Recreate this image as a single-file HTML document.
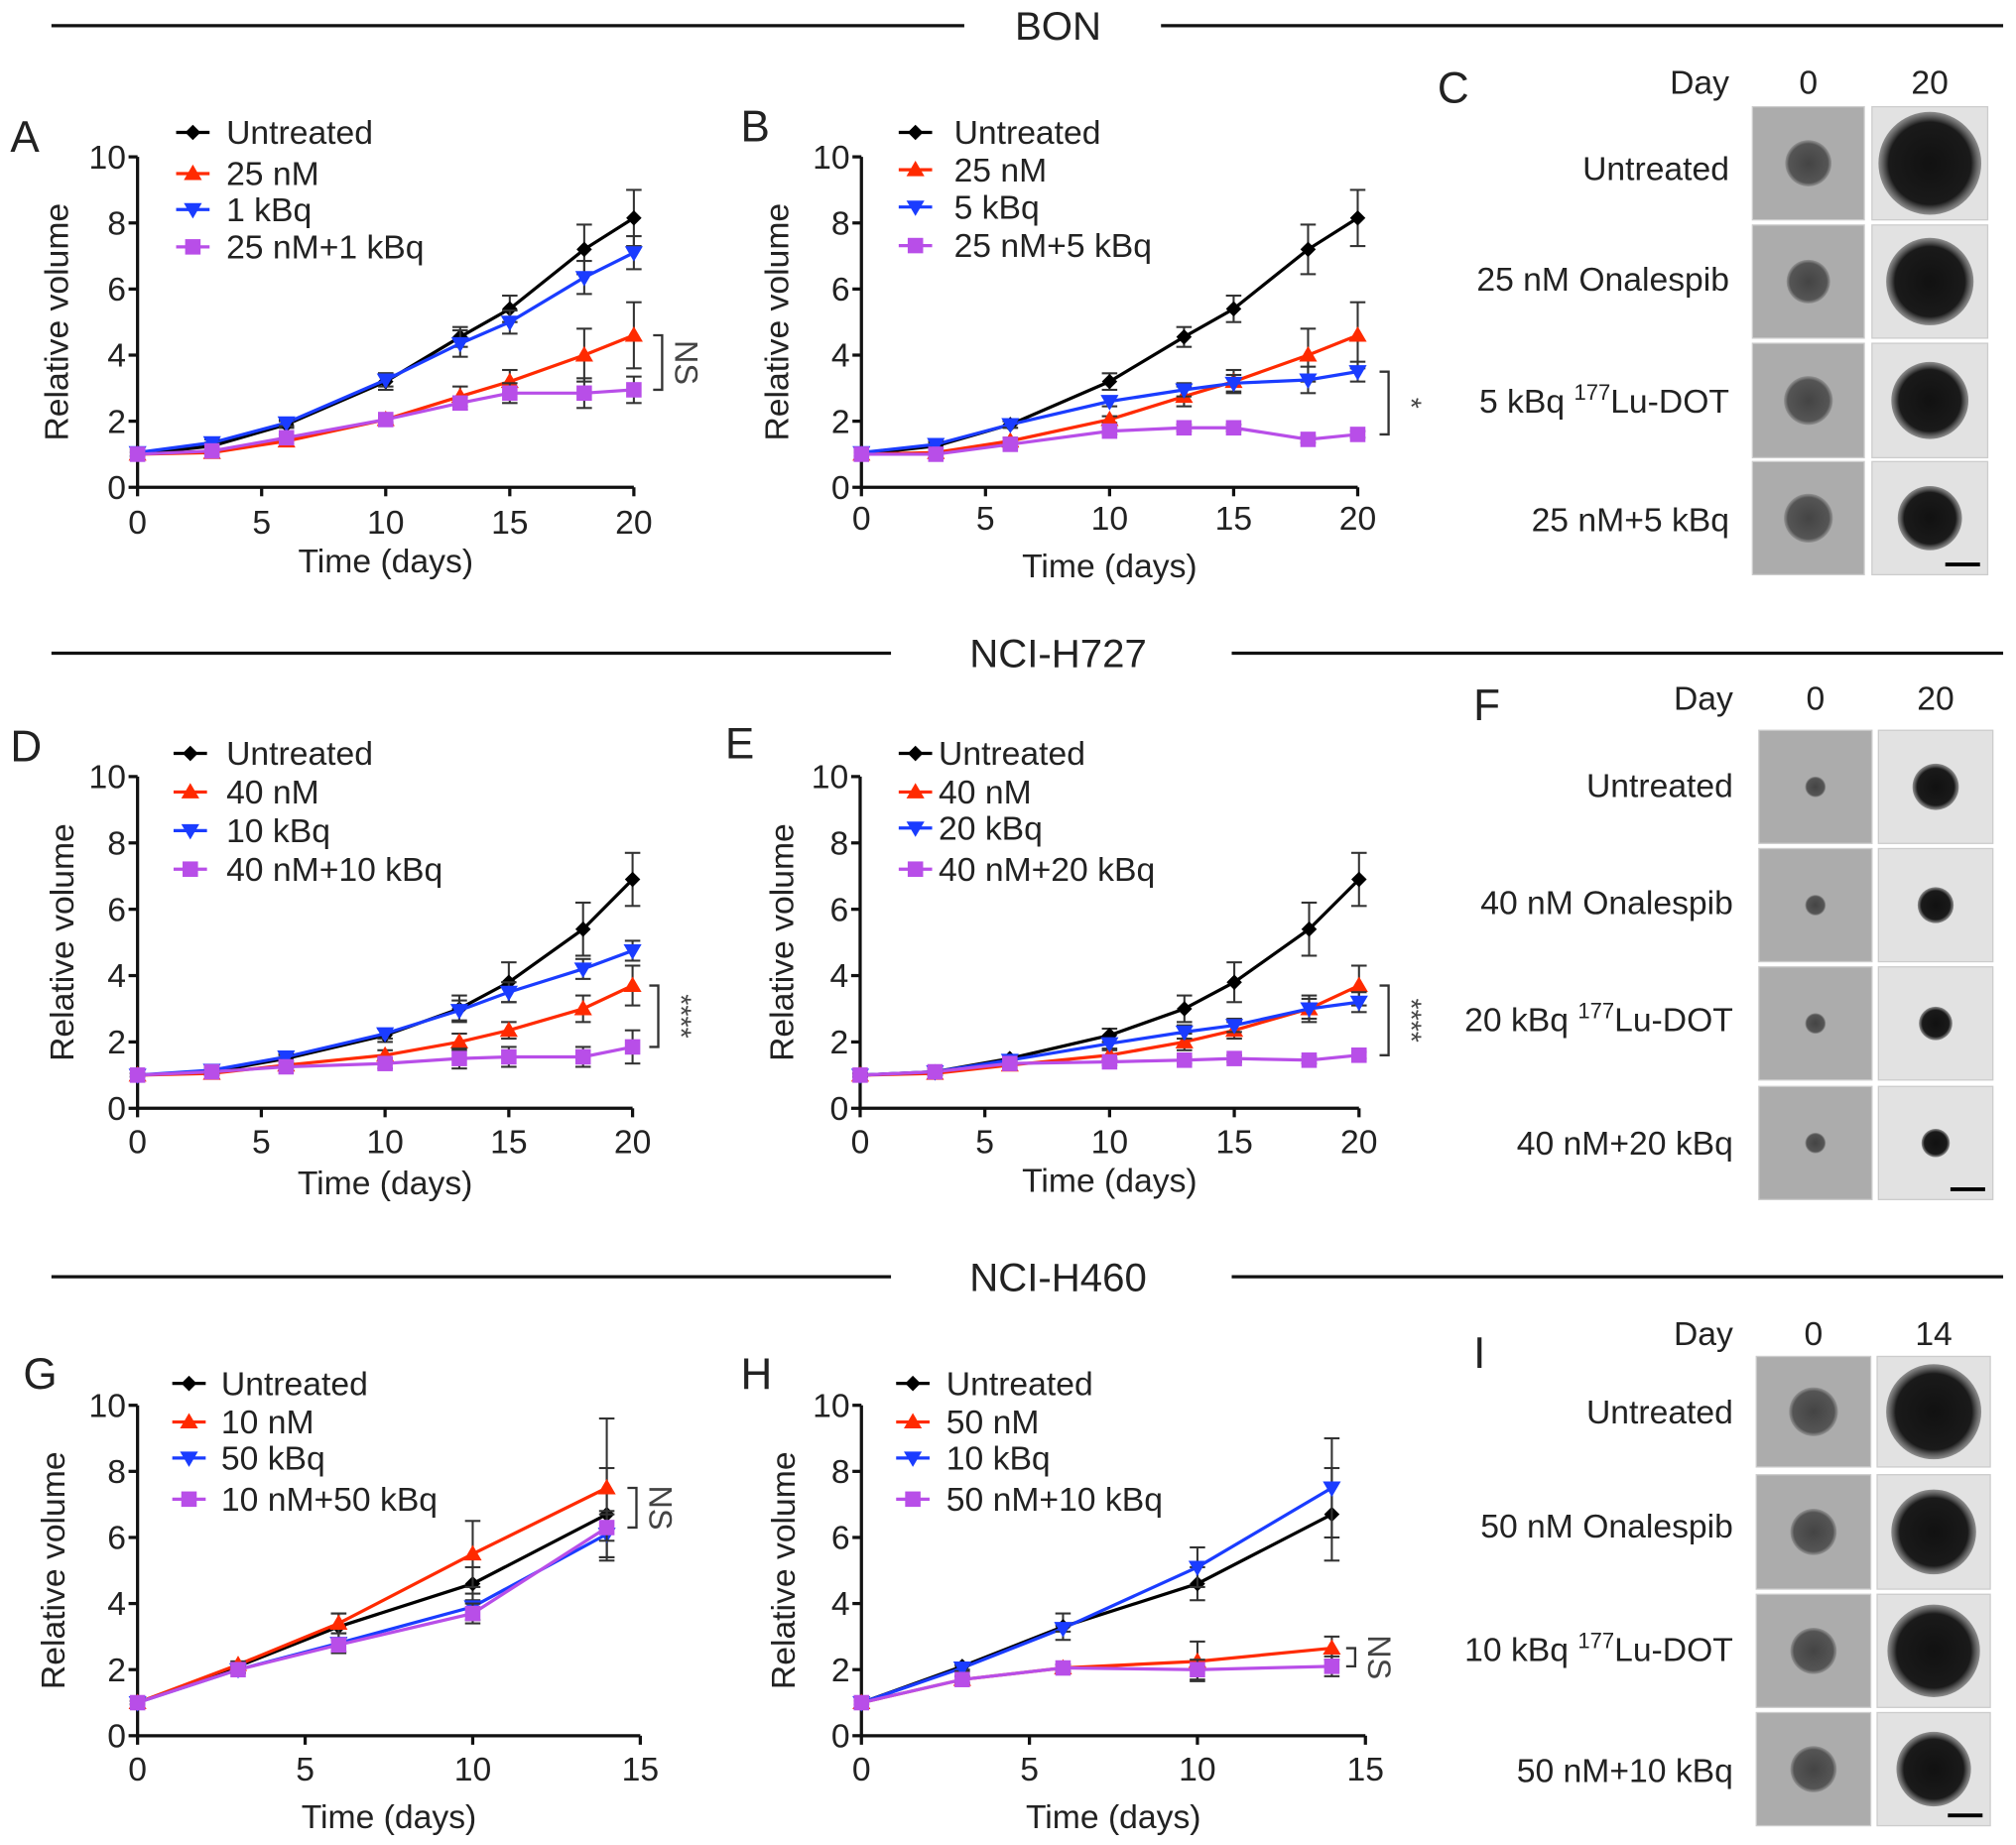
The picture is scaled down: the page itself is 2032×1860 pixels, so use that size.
<!DOCTYPE html>
<html><head><meta charset="utf-8">
<style>
html,body{margin:0;padding:0;background:#fff;}
svg{display:block;font-family:"Liberation Sans",Arial,sans-serif;}
</style></head>
<body>
<svg id="fig" width="2032" height="1860" viewBox="0 0 1568 1435" preserveAspectRatio="none" xmlns="http://www.w3.org/2000/svg">
<defs>
<radialGradient id="blobDark"><stop offset="0" stop-color="#111"/><stop offset="0.8" stop-color="#1a1a1a"/><stop offset="1" stop-color="#555" stop-opacity="0.6"/></radialGradient>
<radialGradient id="blobMid"><stop offset="0" stop-color="#444"/><stop offset="0.85" stop-color="#555"/><stop offset="1" stop-color="#777" stop-opacity="0.5"/></radialGradient>
</defs>
</svg>
<script>
const NS="http://www.w3.org/2000/svg";
const svg=document.getElementById('fig');
function mk(tag,attrs,parent){const e=document.createElementNS(NS,tag);for(const k in attrs)e.setAttribute(k,attrs[k]);(parent||svg).appendChild(e);return e;}
function txt(x,y,s,size,anchor,parent){const t=mk('text',{x:x,y:y,'font-size':size,'text-anchor':anchor||'start',fill:'#222'},parent);t.textContent=s;return t;}
const FS=26;

// ---- data ----
const daysLong=[0,3,6,10,13,15,18,20];
const daysShort=[0,3,6,10,14];
const xTicks20=[0,5,10,15,20];
const xTicks15=[0,5,10,15];
const yTicks=[0,2,4,6,8,10];

const aNames=["Untreated","25 nM","1 kBq","25 nM+1 kBq"];
const aUnt=[1,1.25,1.9,3.2,4.55,5.4,7.2,8.15];
const aUntErr=[0.1,0.1,0.1,0.25,0.3,0.4,0.75,0.85];
const a25=[1,1.05,1.4,2.05,2.75,3.2,4.0,4.6];
const a25Err=[0.05,0.05,0.1,0.1,0.3,0.35,0.8,1.0];
const a1k=[1.05,1.35,1.95,3.25,4.35,5.0,6.35,7.1];
const a1kErr=[0.1,0.1,0.1,0.2,0.4,0.35,0.5,0.5];
const aCombo=[1,1.1,1.5,2.05,2.55,2.85,2.85,2.95];
const aComboErr=[0.05,0.1,0.1,0.1,0.2,0.3,0.45,0.4];

const bNames=["Untreated","25 nM","5 kBq","25 nM+5 kBq"];
const b5k=[1.05,1.3,1.9,2.6,2.95,3.15,3.25,3.5];
const b5kErr=[0.1,0.1,0.1,0.15,0.2,0.25,0.4,0.3];
const bCombo=[1,1.0,1.3,1.7,1.8,1.8,1.45,1.6];
const bComboErr=[0.05,0.05,0.1,0.1,0.1,0.1,0.1,0.1];

const dNames=["Untreated","40 nM","10 kBq","40 nM+10 kBq"];
const dUnt=[1,1.1,1.5,2.2,3.0,3.8,5.4,6.9];
const dUntErr=[0.05,0.1,0.1,0.2,0.4,0.6,0.8,0.8];
const d40=[1,1.05,1.3,1.6,2.0,2.35,3.0,3.7];
const d40Err=[0.05,0.05,0.1,0.15,0.25,0.25,0.4,0.6];
const d10k=[1,1.15,1.55,2.25,2.95,3.5,4.2,4.75];
const d10kErr=[0.05,0.1,0.1,0.15,0.3,0.3,0.3,0.3];
const dCombo=[1,1.1,1.25,1.35,1.5,1.55,1.55,1.85];
const dComboErr=[0.05,0.05,0.1,0.15,0.3,0.3,0.3,0.5];

const eNames=["Untreated","40 nM","20 kBq","40 nM+20 kBq"];
const e20k=[1,1.1,1.45,1.95,2.3,2.5,3.0,3.2];
const e20kErr=[0.05,0.1,0.1,0.15,0.2,0.2,0.3,0.3];
const eCombo=[1,1.1,1.35,1.4,1.45,1.5,1.45,1.6];
const eComboErr=[0.05,0.05,0.1,0.1,0.1,0.1,0.1,0.1];

const gNames=["Untreated","10 nM","50 kBq","10 nM+50 kBq"];
const gUnt=[1,2.1,3.3,4.6,6.7];
const gUntErr=[0.05,0.1,0.4,0.5,1.4];
const g10n=[1,2.15,3.4,5.5,7.5];
const g10nErr=[0.05,0.1,0.3,1.0,2.1];
const g50k=[1,2.0,2.8,3.9,6.1];
const g50kErr=[0.05,0.1,0.3,0.4,0.7];
const gCombo=[1,2.0,2.75,3.7,6.3];
const gComboErr=[0.05,0.1,0.2,0.3,0.4];

const hNames=["Untreated","50 nM","10 kBq","50 nM+10 kBq"];
const h50n=[1,1.7,2.05,2.25,2.65];
const h50nErr=[0.05,0.1,0.1,0.6,0.35];
const h10k=[1,2.05,3.25,5.1,7.5];
const h10kErr=[0.05,0.1,0.1,0.6,1.5];
const hCombo=[1,1.7,2.05,2.0,2.1];
const hComboErr=[0.05,0.1,0.1,0.3,0.3];

const COLORS=["#000000","#ff2a00","#1a3cff","#b84ee8"];
const MARKERS=["diamond","up","down","square"];

function marker(type,x,y,color,g){
  let e;
  if(type==="diamond") e=mk('polygon',{points:`${x},${y-6} ${x+6},${y} ${x},${y+6} ${x-6},${y}`,fill:color},g);
  else if(type==="up") e=mk('polygon',{points:`${x},${y-7} ${x+7},${y+5} ${x-7},${y+5}`,fill:color},g);
  else if(type==="down") e=mk('polygon',{points:`${x},${y+7} ${x+7},${y-5} ${x-7},${y-5}`,fill:color},g);
  else e=mk('rect',{x:x-6,y:y-6,width:12,height:12,fill:color},g);
  return e;
}

function chart(cfg){
  const g=mk('g',{});
  
  
  const xmax=cfg.xmax;
  const sx=v=>cfg.x0+(cfg.x1-cfg.x0)*v/xmax;
  const sy=v=>cfg.y0-(cfg.y0-cfg.y1)*v/10;
  const L=txt(cfg.lx,cfg.ly,cfg.letter,34,'start',g);
  
  
  const ax=mk('g',{stroke:'#111','stroke-width':2.5,fill:'none'},g);
  
  
  mk('line',{x1:cfg.x0,y1:sy(0),x2:cfg.x0,y2:sy(10)},ax);
  mk('line',{x1:cfg.x0,y1:sy(0),x2:sx(xmax),y2:sy(0)},ax);
  cfg.yt.forEach(v=>{mk('line',{x1:cfg.x0-7,y1:sy(v),x2:cfg.x0,y2:sy(v)},ax);
    const t=txt(cfg.x0-9,sy(v)+9,String(v),FS,'end',g);
    
    });
  cfg.xt.forEach(v=>{mk('line',{x1:sx(v),y1:sy(0),x2:sx(v),y2:sy(0)+7},ax);
    const t=txt(sx(v),cfg.tickY+2,String(v),FS,'middle',g);
    
    });
  const xt=txt((cfg.x0+cfg.x1)/2,cfg.titleY+2,'Time (days)',FS,'middle',g);
  
  
  const yl=txt(0,0,'Relative volume',FS,'middle',g);
  yl.setAttribute('transform',`translate(${cfg.ylx},${(sy(0)+sy(10))/2}) rotate(-90)`);
  
  
  cfg.series.forEach((s,i)=>{
    const sg=mk('g',{},g);
    
    
    const pts=s.v.map((v,j)=>sx(cfg.days[j])+','+sy(v)).join(' ');
    const pl=mk('polyline',{points:pts,fill:'none',stroke:COLORS[i],'stroke-width':2.5},sg);
    
    
    s.v.forEach((v,j)=>{
      const x=sx(cfg.days[j]);
      const eg=mk('g',{stroke:'#333','stroke-width':1.6},sg);
      
      
      mk('line',{x1:x,y1:sy(v+s.e[j]),x2:x,y2:sy(v-s.e[j])},eg);
      mk('line',{x1:x-6,y1:sy(v+s.e[j]),x2:x+6,y2:sy(v+s.e[j])},eg);
      mk('line',{x1:x-6,y1:sy(v-s.e[j]),x2:x+6,y2:sy(v-s.e[j])},eg);
      const m=marker(MARKERS[i],x,sy(v),COLORS[i],sg);
      
      
    });
  });
  const lg=mk('g',{},g);
  
  
  cfg.names.forEach((n,i)=>{
    const ly=cfg.legY[i];
    const le=mk('g',{},lg);
    
    
    mk('line',{x1:cfg.legMX-13,y1:ly,x2:cfg.legMX+13,y2:ly,stroke:COLORS[i],'stroke-width':2.5},le);
    marker(MARKERS[i],cfg.legMX,ly,COLORS[i],le);
    txt(cfg.legTX,ly+9,n,FS,'start',le);
  });
  const bg=mk('g',{},g);
  
  
  const ya=sy(cfg.sig[0]),yb=sy(cfg.sig[1]),bx=cfg.sigX;
  mk('polyline',{points:`${bx-7},${ya} ${bx},${ya} ${bx},${yb} ${bx-7},${yb}`,fill:'none',stroke:'#333','stroke-width':1.8},bg);
  const st=txt(0,0,cfg.sigText,cfg.sigText==='NS'?25:22,'middle',bg);
  st.setAttribute('transform',`translate(${bx+10},${(ya+yb)/2}) rotate(90)`);
  st.setAttribute('fill','#444');
}

chart({name:'chart-a',letter:'A',lx:8,ly:118,x0:107,x1:493,y0:379,y1:122,xmax:20,days:daysLong,xt:xTicks20,yt:yTicks,tickY:413,titleY:443,ylx:53,
  names:aNames,legMX:150,legTX:176,legY:[103,135,163,192],
  series:[{v:aUnt,e:aUntErr},{v:a25,e:a25Err},{v:a1k,e:a1kErr},{v:aCombo,e:aComboErr}],
  sig:[4.6,2.95],sigX:515,sigText:'NS'});
chart({name:'chart-b',letter:'B',lx:576,ly:110,x0:670,x1:1056,y0:379,y1:122,xmax:20,days:daysLong,xt:xTicks20,yt:yTicks,tickY:410,titleY:447,ylx:613,
  names:bNames,legMX:712,legTX:742,legY:[103,132,161,191],
  series:[{v:aUnt,e:aUntErr},{v:a25,e:a25Err},{v:b5k,e:b5kErr},{v:bCombo,e:bComboErr}],
  sig:[3.5,1.6],sigX:1080,sigText:'*'});
chart({name:'chart-d',letter:'D',lx:8,ly:592,x0:107,x1:492,y0:862,y1:604,xmax:20,days:daysLong,xt:xTicks20,yt:yTicks,tickY:895,titleY:927,ylx:57,
  names:dNames,legMX:148,legTX:176,legY:[586,616,646,676],
  series:[{v:dUnt,e:dUntErr},{v:d40,e:d40Err},{v:d10k,e:d10kErr},{v:dCombo,e:dComboErr}],
  sig:[3.7,1.85],sigX:512,sigText:'****'});
chart({name:'chart-e',letter:'E',lx:564,ly:590,x0:669,x1:1057,y0:862,y1:604,xmax:20,days:daysLong,xt:xTicks20,yt:yTicks,tickY:895,titleY:925,ylx:617,
  names:eNames,legMX:712,legTX:730,legY:[586,616,644,676],
  series:[{v:dUnt,e:dUntErr},{v:d40,e:d40Err},{v:e20k,e:e20kErr},{v:eCombo,e:eComboErr}],
  sig:[3.7,1.6],sigX:1080,sigText:'****'});
chart({name:'chart-g',letter:'G',lx:18,ly:1080,x0:107,x1:498,y0:1350,y1:1093,xmax:15,days:daysShort,xt:xTicks15,yt:yTicks,tickY:1383,titleY:1420,ylx:50,
  names:gNames,legMX:147,legTX:172,legY:[1076,1106,1134,1166],
  series:[{v:gUnt,e:gUntErr},{v:g10n,e:g10nErr},{v:g50k,e:g50kErr},{v:gCombo,e:gComboErr}],
  sig:[7.5,6.3],sigX:495,sigText:'NS'});
chart({name:'chart-h',letter:'H',lx:576,ly:1080,x0:670,x1:1062,y0:1350,y1:1093,xmax:15,days:daysShort,xt:xTicks15,yt:yTicks,tickY:1383,titleY:1420,ylx:618,
  names:hNames,legMX:710,legTX:736,legY:[1076,1106,1134,1166],
  series:[{v:gUnt,e:gUntErr},{v:h50n,e:h50nErr},{v:h10k,e:h10kErr},{v:hCombo,e:hComboErr}],
  sig:[2.65,2.1],sigX:1054,sigText:'NS'});

[[20,'BON',750,903],[508,'NCI-H727',693,958],[993,'NCI-H460',693,958]].forEach(h=>{
  const g=mk('g',{});
  
  
  mk('line',{x1:40,y1:h[0],x2:h[2],y2:h[0],stroke:'#111','stroke-width':2.5},g);
  mk('line',{x1:h[3],y1:h[0],x2:1558,y2:h[0],stroke:'#111','stroke-width':2.5},g);
  txt(823,h[0]+11,h[1],31,'middle',g);
});

function imgPanel(cfg){
  const g=mk('g',{});
  
  
  txt(cfg.lx,cfg.ly,cfg.letter,34,'start',g);
  txt(cfg.dayX,cfg.hy,'Day',FS,'end',g);
  txt((cfg.c1[0]+cfg.c1[1])/2,cfg.hy,cfg.d0,FS,'middle',g);
  txt((cfg.c2[0]+cfg.c2[1])/2,cfg.hy,cfg.d1,FS,'middle',g);
  cfg.rows.forEach((r,i)=>{
    const lab=txt(cfg.labX,cfg.labY[i],'',FS,'end',g);
    
    
    if(cfg.labels[i].sup){
      const a=mk('tspan',{},lab);a.textContent=cfg.labels[i].pre;
      const b=mk('tspan',{dy:-10,'font-size':17},lab);b.textContent=cfg.labels[i].sup;
      const c=mk('tspan',{dy:10},lab);c.textContent=cfg.labels[i].post;
    } else lab.textContent=cfg.labels[i].pre;
    [[cfg.c1,'#acacac',cfg.r0[i],'url(#blobMid)'],[cfg.c2,'#e2e2e2',cfg.r1[i],'url(#blobDark)']].forEach(([c,bg,rad,fill],k)=>{
      const tile=mk('g',{},g);
      
      
      mk('rect',{x:c[0],y:r[0],width:c[1]-c[0],height:r[1]-r[0],fill:bg,stroke:'#ccc','stroke-width':1},tile);
      mk('circle',{cx:(c[0]+c[1])/2,cy:(r[0]+r[1])/2,r:rad,fill:fill},tile);
    });
  });
  const last=cfg.rows[cfg.rows.length-1];
  const sb=mk('line',{x1:cfg.c2[1]-33,y1:last[1]-8,x2:cfg.c2[1]-6,y2:last[1]-8,stroke:'#000','stroke-width':3},g);
  
  
}
imgPanel({name:'panel-c',letter:'C',lx:1118,ly:80,dayX:1345,hy:73,d0:'0',d1:'20',labX:1345,
  c1:[1363,1450],c2:[1456,1546],rows:[[83,171],[175,263],[267,356],[359,447]],labY:[140,226,321,413],
  labels:[{pre:'Untreated'},{pre:'25 nM Onalespib'},{pre:'5 kBq ',sup:'177',post:'Lu-DOT'},{pre:'25 nM+5 kBq'}],
  r0:[18,17,19,19],r1:[40,34,30,25]});
imgPanel({name:'panel-f',letter:'F',lx:1146,ly:560,dayX:1348,hy:552,d0:'0',d1:'20',labX:1348,
  c1:[1368,1456],c2:[1461,1550],rows:[[568,656],[660,748],[752,840],[845,933]],labY:[620,711,802,898],
  labels:[{pre:'Untreated'},{pre:'40 nM Onalespib'},{pre:'20 kBq ',sup:'177',post:'Lu-DOT'},{pre:'40 nM+20 kBq'}],
  r0:[8,8,8,8],r1:[18,14,13,11]});
imgPanel({name:'panel-i',letter:'I',lx:1146,ly:1064,dayX:1348,hy:1046,d0:'0',d1:'14',labX:1348,
  c1:[1366,1455],c2:[1460,1548],rows:[[1055,1141],[1147,1236],[1240,1328],[1332,1420]],labY:[1107,1196,1292,1386],
  labels:[{pre:'Untreated'},{pre:'50 nM Onalespib'},{pre:'10 kBq ',sup:'177',post:'Lu-DOT'},{pre:'50 nM+10 kBq'}],
  r0:[19,18,18,18],r1:[37,33,36,29]});
</script>
</body></html>
